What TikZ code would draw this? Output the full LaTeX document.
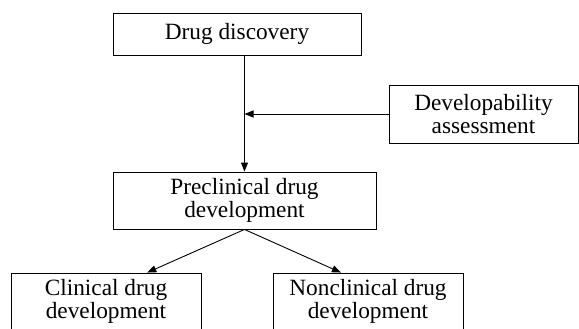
\documentclass[tikz,border=0pt]{standalone}
\usepackage{fontspec}
\setmainfont{Liberation Serif}
\usetikzlibrary{arrows.meta,calc}
\tikzset{
  stagebox/.style={draw, line width=0.9pt, align=center, inner sep=0pt,
    font=\fontsize{23.3}{23.5}\selectfont},
  flow/.style={line width=0.9pt, -{Triangle[length=9pt,width=7pt]}}
}
\begin{document}
\begin{tikzpicture}[x=1pt,y=-1pt]
  \useasboundingbox (0,0) rectangle (579,329);
  \clip (0,0) rectangle (579,329);

  % process stages
  \node[stagebox, minimum width=248pt, minimum height=42pt] (dd) at (237,34) {Drug discovery};
  \node[stagebox, minimum width=189pt, minimum height=58pt] (dev) at (483.5,114) {Developability\\assessment};
  \node[stagebox, minimum width=263pt, minimum height=57pt] (pre) at (244.5,200.5) {Preclinical drug\\development};
  \node[stagebox, minimum width=190pt, minimum height=57pt] (clin) at (106,301.5) {Clinical drug\\development};
  \node[stagebox, minimum width=190pt, minimum height=57pt] (nonclin) at (368,301.5) {Nonclinical drug\\development};

  % connectors
  \draw[flow] (pre.north |- dd.south) -- (pre.north);
  \draw[flow] (dev.west) -- (pre.north |- dev.west);
  \draw[flow] (pre.south) -- ($(clin.north west)!0.716!(clin.north east)$);
  \draw[flow] (pre.south) -- ($(nonclin.north west)!0.358!(nonclin.north east)$);
\end{tikzpicture}
\end{document}
